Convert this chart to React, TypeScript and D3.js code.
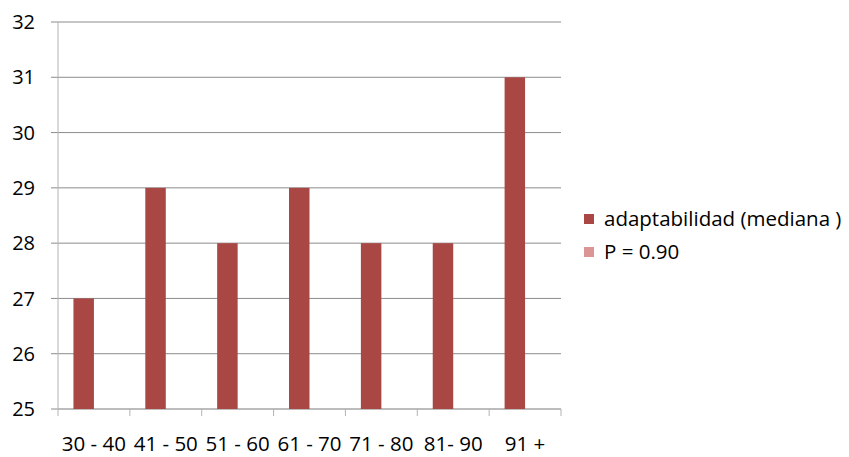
import React from "react";
import * as d3 from "d3";

const categories = ["30 - 40", "41 - 50", "51 - 60", "61 - 70", "71 - 80", "81- 90", "91 +"];
const medianValues = [27, 29, 28, 29, 28, 28, 31];
const seriesNames = ["adaptabilidad (mediana )", "P = 0.90"];
const seriesColors = ["#A94744", "#D99694"];
const yTicks = [25, 26, 27, 28, 29, 30, 31, 32];

const W = 849;
const H = 457;
const margin = { left: 58, right: 288, top: 22, bottom: 48 };
const FONT = "'Open Sans', Lato, sans-serif";

export default function App() {
  const innerRight = W - margin.right;
  const innerBottom = H - margin.bottom;

  const x = d3.scaleBand<string>().domain(categories).range([margin.left, innerRight]).padding(0);
  const y = d3.scaleLinear().domain([25, 32]).range([innerBottom, margin.top]);
  const barW = x.bandwidth() * 0.285;

  const tickEdges = categories.map((c) => x(c) as number).concat([innerRight]);

  return (
    <svg
      width={W}
      height={H}
      style={{ position: "fixed", left: 0, top: 0, display: "block", background: "#fff" }}
      fontFamily={FONT}
    >
      {/* horizontal gridlines */}
      {yTicks.map((t) => (
        <line key={"g" + t} x1={margin.left - 7} x2={innerRight} y1={y(t)} y2={y(t)} stroke="#8c8c8c" strokeWidth={1} />
      ))}
      {/* y axis */}
      <line x1={margin.left} x2={margin.left} y1={margin.top} y2={innerBottom} stroke="#b3b3b3" strokeWidth={1} />
      {/* x axis */}
      <line x1={margin.left} x2={innerRight} y1={innerBottom} y2={innerBottom} stroke="#b3b3b3" strokeWidth={1} />
      {tickEdges.map((px, i) => (
        <line key={"t" + i} x1={px} x2={px} y1={innerBottom} y2={innerBottom + 7} stroke="#b3b3b3" strokeWidth={1} />
      ))}
      {/* y labels */}
      {yTicks.map((t) => (
        <text key={"l" + t} x={35} y={y(t)} dy="0.36em" textAnchor="end" fontSize={20} fill="#000">
          {t}
        </text>
      ))}
      {/* bars */}
      {categories.map((c, i) => {
        const cx = (x(c) as number) + x.bandwidth() / 2;
        return (
          <rect
            key={"b" + c}
            x={cx - barW}
            y={y(medianValues[i])}
            width={barW}
            height={innerBottom - y(medianValues[i])}
            fill={seriesColors[0]}
          />
        );
      })}
      {/* x labels */}
      {categories.map((c) => (
        <text key={"x" + c} x={(x(c) as number) + x.bandwidth() / 2} y={451} textAnchor="middle" fontSize={20.5} fill="#000">
          {c}
        </text>
      ))}
      {/* legend */}
      {seriesNames.map((s, i) => (
        <g key={"lg" + s} transform={`translate(584, ${214 + i * 33})`}>
          <rect x={0} y={0} width={10} height={10} fill={seriesColors[i]} />
          <text x={20} y={5} dy="0.36em" fontSize={20.5} fill="#000">
            {s}
          </text>
        </g>
      ))}
    </svg>
  );
}
